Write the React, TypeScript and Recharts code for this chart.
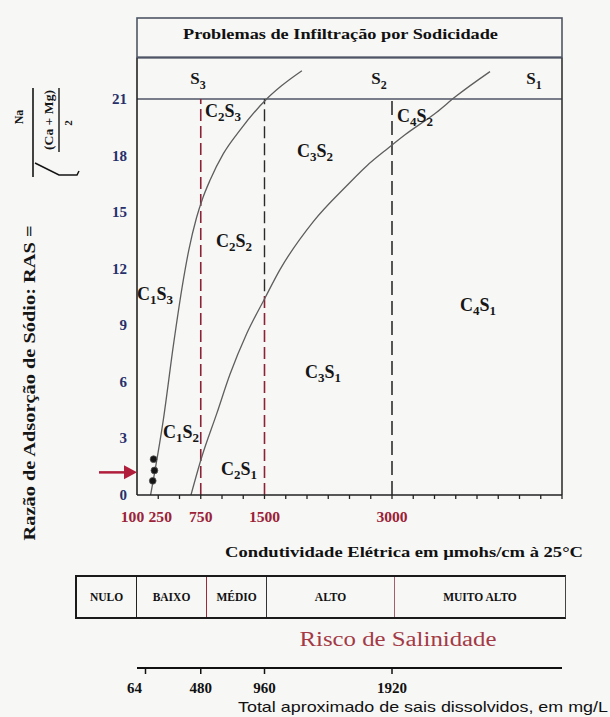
import React from "react";
import {
  ComposedChart,
  Line,
  Scatter,
  XAxis,
  YAxis,
  ReferenceLine,
  ReferenceDot,
} from "recharts";

// condutividade elétrica (µmhos/cm) x RAS
const ecLabelTicks = [100, 250, 750, 1500, 3000];
const ecMarkTicks = [
  0, 250, 500, 750, 1000, 1250, 1500, 1750, 2000, 2250, 2500, 2750, 3000, 3250,
  3500, 3750, 4000, 4250, 4500, 4750, 5000,
];
const rasTicks = [0, 3, 6, 9, 12, 15, 18, 21];
const tdsTicks = [64, 480, 960, 1920];

// curva S3 / S2 (lado esquerdo)
const s3s2Curve = [
  { x: 160, y: 0 },
  { x: 310, y: 4.0 },
  { x: 430, y: 8.0 },
  { x: 530, y: 11.0 },
  { x: 610, y: 13.0 },
  { x: 700, y: 14.7 },
  { x: 770, y: 15.7 },
  { x: 860, y: 16.7 },
  { x: 1016, y: 18.1 },
  { x: 1212, y: 19.35 },
  { x: 1525, y: 21.0 },
  { x: 1700, y: 21.7 },
  { x: 1940, y: 22.5 },
];

// curva S2 / S1
const s2s1Curve = [
  { x: 635, y: 0 },
  { x: 761, y: 2.0 },
  { x: 937, y: 4.3 },
  { x: 1094, y: 6.4 },
  { x: 1290, y: 8.55 },
  { x: 1506, y: 10.45 },
  { x: 1682, y: 11.95 },
  { x: 2074, y: 14.5 },
  { x: 2467, y: 16.4 },
  { x: 2702, y: 17.45 },
  { x: 2957, y: 18.4 },
  { x: 3153, y: 19.1 },
  { x: 3526, y: 20.3 },
  { x: 3741, y: 21.1 },
  { x: 4153, y: 22.45 },
];

const zoneLabels = [
  { x: 1012, y: 20.3, c: "2", s: "3" },
  { x: 2094, y: 18.2, c: "3", s: "2" },
  { x: 3270, y: 20.05, c: "4", s: "2" },
  { x: 1141, y: 13.4, c: "2", s: "2" },
  { x: 212, y: 10.6, c: "1", s: "3" },
  { x: 4012, y: 10.0, c: "4", s: "1" },
  { x: 2188, y: 6.45, c: "3", s: "1" },
  { x: 518, y: 3.3, c: "1", s: "2" },
  { x: 1200, y: 1.3, c: "2", s: "1" },
];

const sodicityBands = [
  { x: 718, y: 22.0, s: "3" },
  { x: 2847, y: 22.0, s: "2" },
  { x: 4670, y: 22.0, s: "1" },
];

const samples = [
  { x: 195, y: 1.9 },
  { x: 205, y: 1.3 },
  { x: 185, y: 0.75 },
];
const arrowRas = 1.2;

const salinityClasses = ["NULO", "BAIXO", "MÉDIO", "ALTO", "MUITO ALTO"];
const classWidths = [60, 70, 60, 128, 170];
const classDividers = ["#222", "#9c2a3a", "#333", "#a0606c", "#222"];

const serif = "'Liberation Serif', 'Times New Roman', serif";
const RED = "#9c2236";
const NAVY = "#27306b";
const FRAME = "#4f5565";

function EcTick(props: any) {
  const { x, y, payload } = props;
  const v = payload.value;
  const mark = ecMarkTicks.includes(v) && v > 0;
  const label = ecLabelTicks.includes(v);
  const s = String(v);
  return (
    <g>
      {mark && <line x1={x} x2={x} y1={y} y2={y + 4} stroke="#222" strokeWidth={1.3} />}
      {label && (
        <text
          x={v === 100 ? x - 13 : v === 250 ? x + 2 : x}
          y={y + 27}
          textAnchor="middle"
          fontFamily={serif}
          fontWeight="bold"
          fontSize={14}
          textLength={s.length * 7.8}
          lengthAdjust="spacingAndGlyphs"
          fill={RED}
        >
          {s}
        </text>
      )}
    </g>
  );
}

function RasTick(props: any) {
  const { x, y, payload } = props;
  return (
    <text
      x={x - 10}
      y={y + 5}
      textAnchor="end"
      fontFamily={serif}
      fontWeight="bold"
      fontSize={15}
      fill={NAVY}
    >
      {payload.value}
    </text>
  );
}

function TdsTick(props: any) {
  const { x, y, payload } = props;
  const v = payload.value;
  return (
    <g>
      <line x1={x} x2={x} y1={y} y2={y + 6} stroke="#111" strokeWidth={1.5} />
      <text
        x={v === 64 ? x - 11 : x}
        y={y + 25}
        textAnchor="middle"
        fontFamily={serif}
        fontWeight="bold"
        fontSize={15}
        fill="#111"
      >
        {v}
      </text>
    </g>
  );
}

function ZoneLabel(props: any) {
  const { cx, cy, payload } = props;
  return (
    <text
      x={cx}
      y={cy + 5}
      textAnchor="middle"
      fontFamily={serif}
      fontWeight="bold"
      fontSize={18}
      fill="#161616"
    >
      C<tspan dy={4} fontSize={13}>{payload.c}</tspan>
      <tspan dy={-4}>S</tspan>
      <tspan dy={4} fontSize={13}>{payload.s}</tspan>
    </text>
  );
}

function BandLabel(props: any) {
  const { cx, cy, payload } = props;
  return (
    <text
      x={cx}
      y={cy + 4}
      textAnchor="middle"
      fontFamily={serif}
      fontWeight="bold"
      fontSize={17}
      fill="#161616"
    >
      S<tspan dy={5} fontSize={12}>{payload.s}</tspan>
    </text>
  );
}

function SampleDot(props: any) {
  const { cx, cy } = props;
  return <circle cx={cx} cy={cy} r={3.4} fill="#151515" stroke="#555" strokeWidth={0.8} />;
}

function Arrow(props: any) {
  const { cx, cy } = props;
  return (
    <g>
      <line x1={cx - 38} x2={cx - 10} y1={cy} y2={cy} stroke="#b01e3c" strokeWidth={2.5} />
      <polygon points={`${cx - 13},${cy - 7} ${cx},${cy} ${cx - 13},${cy + 7}`} fill="#b01e3c" />
    </g>
  );
}

export default function App() {
  return (
    <div
      style={{
        position: "absolute",
        left: 0,
        top: 0,
        width: 610,
        height: 717,
        overflow: "hidden",
        background: "#f7f7f6",
      }}
    >
      <div style={{ position: "absolute", left: 0, top: 0 }}>
        <ComposedChart
          width={610}
          height={560}
          margin={{ top: 57.5, right: 48, bottom: 35, left: 107 }}
        >
          <XAxis
            type="number"
            dataKey="x"
            domain={[0, 5000]}
            allowDataOverflow
            ticks={[0, 100, ...ecMarkTicks.slice(1)]}
            interval={0}
            tickSize={0}
            tickMargin={0}
            tickLine={false}
            tick={<EcTick />}
            height={30}
            axisLine={{ stroke: "#222", strokeWidth: 1.6 }}
          />
          <YAxis
            type="number"
            domain={[0, 23.2]}
            allowDataOverflow
            ticks={rasTicks}
            interval={0}
            tickSize={0}
            tickMargin={0}
            tickLine={false}
            tick={<RasTick />}
            width={30}
            axisLine={{ stroke: "#222", strokeWidth: 1.6 }}
          />
          <ReferenceLine y={23.2} stroke={FRAME} strokeWidth={1.8} />
          <ReferenceLine y={21} stroke={FRAME} strokeWidth={1.6} />
          <ReferenceLine x={5000} stroke="#333" strokeWidth={1.6} />
          <ReferenceLine
            segment={[{ x: 750, y: 0 }, { x: 750, y: 21 }]}
            stroke="#8b2235"
            strokeWidth={1.6}
            strokeDasharray="12 5"
          />
          <ReferenceLine
            segment={[{ x: 1500, y: 0 }, { x: 1500, y: 10.8 }]}
            stroke="#8b2235"
            strokeWidth={1.6}
            strokeDasharray="12 5"
          />
          <ReferenceLine
            segment={[{ x: 1500, y: 10.8 }, { x: 1500, y: 21 }]}
            stroke="#2a2a2a"
            strokeWidth={1.4}
            strokeDasharray="12 5"
          />
          <ReferenceLine
            segment={[{ x: 3000, y: 0 }, { x: 3000, y: 21 }]}
            stroke="#222"
            strokeWidth={1.5}
            strokeDasharray="14 6"
          />
          <Line
            data={s3s2Curve}
            dataKey="y"
            type="monotone"
            stroke="#5e5e5e"
            strokeWidth={1.3}
            dot={false}
            isAnimationActive={false}
          />
          <Line
            data={s2s1Curve}
            dataKey="y"
            type="monotone"
            stroke="#5e5e5e"
            strokeWidth={1.3}
            dot={false}
            isAnimationActive={false}
          />
          <Scatter data={zoneLabels} dataKey="y" shape={<ZoneLabel />} isAnimationActive={false} />
          <Scatter data={sodicityBands} dataKey="y" shape={<BandLabel />} isAnimationActive={false} />
          <Scatter data={samples} dataKey="y" shape={<SampleDot />} isAnimationActive={false} />
          <ReferenceDot x={0} y={arrowRas} r={0} ifOverflow="visible" shape={<Arrow />} />
        </ComposedChart>
      </div>

      {/* escala de sais dissolvidos */}
      <div style={{ position: "absolute", left: 0, top: 0 }}>
        <ComposedChart
          width={610}
          height={717}
          margin={{ top: 600, right: 48, bottom: 19, left: 137 }}
        >
          <XAxis
            type="number"
            dataKey="x"
            domain={[0, 3200]}
            allowDataOverflow
            ticks={tdsTicks}
            interval={0}
            tickSize={0}
            tickMargin={0}
            tickLine={false}
            tick={<TdsTick />}
            height={30}
            axisLine={{ stroke: "#111", strokeWidth: 2.2 }}
          />
          <YAxis hide domain={[0, 1]} />
          <Line
            data={[{ x: 0 }, { x: 3200 }]}
            dataKey="y"
            dot={false}
            isAnimationActive={false}
          />
        </ComposedChart>
      </div>

      {/* tabela de risco de salinidade */}
      <div
        style={{
          position: "absolute",
          left: 75,
          top: 575,
          height: 40,
          display: "flex",
          borderTop: "2.5px solid #1a1a1a",
          borderBottom: "2.5px solid #1a1a1a",
          borderLeft: "2px solid #1a1a1a",
          borderRight: "1.5px solid #444",
        }}
      >
        {salinityClasses.map((c, i) => (
          <div
            key={c}
            style={{
              width: classWidths[i],
              boxSizing: "border-box",
              borderRight: i < salinityClasses.length - 1 ? `1.5px solid ${classDividers[i]}` : "none",
              display: "flex",
              alignItems: "center",
              justifyContent: "center",
              fontFamily: serif,
              fontWeight: "bold",
              fontSize: 11.5,
              color: "#111",
            }}
          >
            {c}
          </div>
        ))}
      </div>

      <svg
        width={610}
        height={717}
        style={{ position: "absolute", left: 0, top: 0, pointerEvents: "none" }}
      >
        <rect x={137} y={18} width={425} height={39.5} fill="none" stroke={FRAME} strokeWidth={1.6} />
        <text
          x={340.5}
          y={39}
          textAnchor="middle"
          fontFamily={serif}
          fontWeight="bold"
          fontSize={14}
          textLength={315}
          lengthAdjust="spacingAndGlyphs"
          fill="#111"
        >
          Problemas de Infiltração por Sodicidade
        </text>

        <g transform="translate(35,383) rotate(-90)">
          <text
            x={0}
            y={0}
            textAnchor="middle"
            fontFamily={serif}
            fontWeight="bold"
            fontSize={16}
            textLength={315}
            lengthAdjust="spacingAndGlyphs"
            fill="#151515"
          >
            Razão de Adsorção de Sódio: RAS =
          </text>
        </g>
        <g transform="translate(35,133) rotate(-90)" fill="#151515" fontFamily={serif} fontWeight="bold">
          <text x={16} y={-12} textAnchor="middle" fontSize={12}>
            Na
          </text>
          <line x1={-44} x2={45} y1={-2} y2={-2} stroke="#151515" strokeWidth={1.6} />
          <text
            x={13}
            y={18}
            textAnchor="middle"
            fontSize={12}
            textLength={60}
            lengthAdjust="spacingAndGlyphs"
          >
            (Ca + Mg)
          </text>
          <line x1={-19} x2={45} y1={24} y2={24} stroke="#151515" strokeWidth={1.4} />
          <text x={10} y={37} textAnchor="middle" fontSize={11}>
            2
          </text>
          <path d="M -30 0 L -42 24 L -42 42 L -38 44" fill="none" stroke="#151515" strokeWidth={1.5} />
        </g>

        <text
          x={404}
          y={557}
          textAnchor="middle"
          fontFamily={serif}
          fontWeight="bold"
          fontSize={15}
          textLength={358}
          lengthAdjust="spacingAndGlyphs"
          fill="#111"
        >
          Condutividade Elétrica em µmohs/cm à 25°C
        </text>

        <text
          x={398}
          y={646}
          textAnchor="middle"
          fontFamily={serif}
          fontSize={20}
          textLength={197}
          lengthAdjust="spacingAndGlyphs"
          fill="#a33a45"
        >
          Risco de Salinidade
        </text>

        <text
          x={423}
          y={712}
          textAnchor="middle"
          fontFamily="'Liberation Sans', Arial, sans-serif"
          fontSize={15}
          textLength={370}
          lengthAdjust="spacingAndGlyphs"
          fill="#111"
        >
          Total aproximado de sais dissolvidos, em mg/L
        </text>
      </svg>
    </div>
  );
}
